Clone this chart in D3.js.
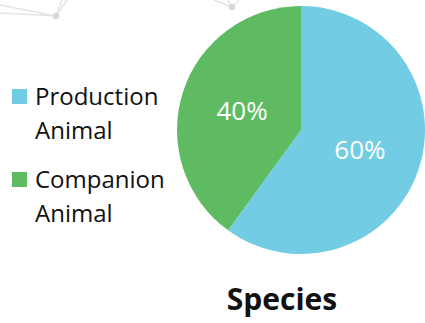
<!DOCTYPE html>
<html>
<head>
<meta charset="utf-8">
<script src="https://cdn.jsdelivr.net/npm/d3@7"></script>
<style>
  html, body { margin: 0; padding: 0; background: #fff; }
  svg { display: block; }
</style>
</head>
<body>
<svg id="chart" width="425" height="323"></svg>
<script>
// Share of species groups
const categories = ["Production Animal", "Companion Animal"];
const legendLines = [["Production", "Animal"], ["Companion", "Animal"]];
const shares = [60, 40];
const colors = ["#72CDE4", "#5FBB61"];
const title = "Species";

const svg = d3.select("#chart");

// faint network decoration in the background
const deco = svg.append("g").attr("stroke", "#e4e4e4").attr("stroke-width", 1.5).attr("fill", "none");
const nodes = [
  { c: [56, 16], ends: [[0, 13], [0, 5], [62, 0], [67, 0]] },
  { c: [232, 7], ends: [[214, 0], [228, 0], [239, 0]] }
];
nodes.forEach(n => {
  n.ends.forEach(e => deco.append("line").attr("x1", n.c[0]).attr("y1", n.c[1]).attr("x2", e[0]).attr("y2", e[1]));
  svg.append("circle").attr("cx", n.c[0]).attr("cy", n.c[1]).attr("r", 3.2).attr("fill", "#d8d8d8");
});

// pie
const cx = 301, cy = 130, r = 124;
const pie = d3.pie().sort(null).value(d => d);
const arc = d3.arc().innerRadius(0).outerRadius(r);
const color = d3.scaleOrdinal().domain(categories).range(colors);

const g = svg.append("g").attr("transform", `translate(${cx},${cy})`);
const arcs = pie(shares);
g.selectAll("path").data(arcs).join("path")
  .attr("d", arc)
  .attr("fill", (d, i) => color(categories[i]));

g.selectAll("text").data(arcs).join("text")
  .attr("transform", d => `translate(${arc.centroid(d)})`)
  .attr("text-anchor", "middle")
  .attr("dy", "0.36em")
  .attr("fill", "#fff")
  .style("font-family", "'Open Sans', sans-serif")
  .style("font-weight", 400)
  .style("font-size", "26px")
  .text(d => d.data + "%");

// legend
const legend = svg.append("g");
const rowY = d3.scalePoint().domain(categories).range([105, 188]);
categories.forEach((c, i) => {
  const y = rowY(c);
  legend.append("rect").attr("x", 12).attr("y", y - 16).attr("width", 15).attr("height", 15).attr("fill", color(c));
  legendLines[i].forEach((line, j) => {
    legend.append("text")
      .attr("x", 35).attr("y", y + j * 34)
      .attr("fill", "#111")
      .style("font-family", "'Open Sans', sans-serif")
      .style("font-size", "24px")
      .text(line);
  });
});

// title
svg.append("text")
  .attr("x", 282).attr("y", 310)
  .attr("text-anchor", "middle")
  .attr("fill", "#111")
  .style("font-family", "'Open Sans', sans-serif")
  .style("font-weight", 700)
  .style("font-size", "30px")
  .text(title);
</script>
</body>
</html>
